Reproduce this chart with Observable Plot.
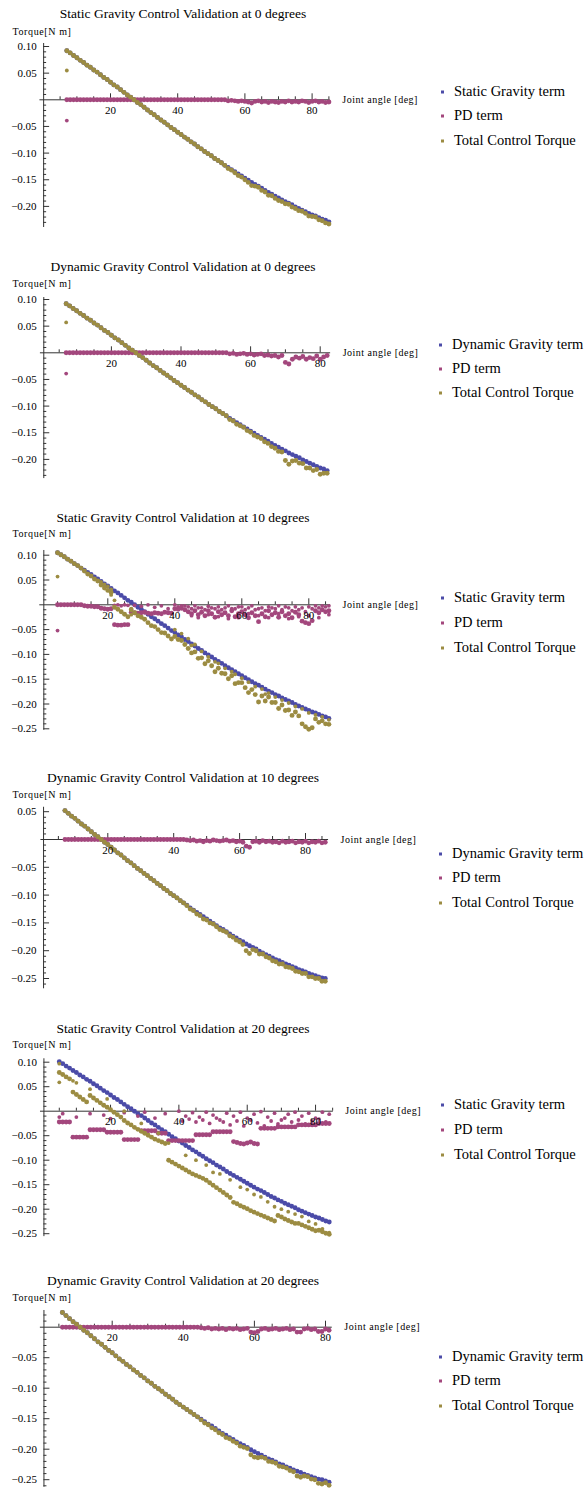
<!DOCTYPE html>
<html>
<head>
<meta charset="utf-8">
<script src="https://cdn.jsdelivr.net/npm/d3@7"></script>
<script src="https://cdn.jsdelivr.net/npm/@observablehq/plot@0.6"></script>
<style>
  body { margin: 0; background: #fff; }
  #chart { position: relative; width: 584px; height: 1491px; overflow: hidden;
           font-family: "Liberation Serif", "Times New Roman", serif; color: #000; }
  #chart svg { position: absolute; left: 0; }
  #chart svg text { font-family: "Liberation Serif", "Times New Roman", serif; }
  .title { position: absolute; font-size: 13.5px; white-space: nowrap; transform: translate(-50%, -50%); }
  .ylab { position: absolute; left: 12.5px; font-size: 10px; letter-spacing: 0.6px; white-space: nowrap; transform: translateY(-50%); }
  .leg { position: absolute; font-size: 14.5px; white-space: nowrap; transform: translateY(-50%); }
  .leg i { position: absolute; left: -13px; top: 50%; width: 3px; height: 3px; margin-top: -1px; }
</style>
</head>
<body>
<div id="chart"></div>
<script>
// ---- axis ticks and labels -------------------------------------------------
const xTicks = [20, 40, 60, 80];
const yTicksA = [0.10, 0.05, -0.05, -0.10, -0.15, -0.20];
const yTicksB = [0.10, 0.05, -0.05, -0.10, -0.15, -0.20, -0.25];
const yTicksC = [0.05, -0.05, -0.10, -0.15, -0.20, -0.25];
const yTicksD = [-0.05, -0.10, -0.15, -0.20, -0.25];
const xLabel = "Joint angle [deg]";
const yLabel = "Torque[N m]";
const seriesNames = ["PD term", "Total Control Torque"];

// ---- measured torques, mN·m, one sample per whole degree from the start angle ----
// Static gravity compensation, reference 0 degrees
const static0Start = 7;
const static0Gravity = [92,88,83,79,74,70,65,61,56,52,47,42,38,33,28,24,19,14,9,5,0,-5,-9,-14,-19,-24,-28,-33,-38,-42,-47,-52,-56,-61,-65,-70,-74,-79,-83,-88,-92,-97,-101,-105,-110,-114,-118,-123,-127,-131,-135,-139,-143,-147,-151,-155,-159,-162,-166,-170,-174,-177,-181,-184,-188,-191,-194,-197,-201,-204,-207,-210,-213,-216,-218,-221,-224,-226,-229];
const static0Pd = [0,0,0,0,0,0,0,0,0,0,0,0,0,0,0,0,0,0,0,0,0,0,0,0,0,0,0,0,0,0,0,0,0,0,0,0,0,0,0,0,0,0,0,0,0,0,0,0,-2,-1,-2,-3,-2,-3,-4,-6,-3,-2,-4,-3,-5,-3,-4,-5,-3,-4,-2,-4,-3,-4,-2,-3,-5,-3,-2,-4,-3,-5,-4];
const static0Total = [92,88,83,79,74,70,65,61,56,52,47,42,38,33,28,24,19,14,9,5,0,-5,-9,-14,-19,-24,-28,-33,-38,-42,-47,-52,-56,-61,-65,-70,-74,-79,-83,-88,-92,-97,-101,-105,-110,-114,-118,-123,-129,-132,-137,-142,-145,-150,-155,-161,-162,-164,-170,-173,-179,-180,-185,-189,-191,-195,-196,-201,-204,-208,-209,-213,-218,-219,-220,-225,-227,-231,-233];
const static0PdExtra = [[7,-39]];
const static0TotalExtra = [[7,55]];

// Dynamic gravity compensation, reference 0 degrees
const dynamic0Start = 7;
const dynamic0Gravity = [92,88,83,79,74,70,65,61,56,52,47,42,38,33,28,24,19,14,9,5,0,-5,-9,-14,-19,-24,-28,-33,-38,-42,-47,-52,-56,-61,-65,-70,-74,-79,-83,-88,-92,-97,-101,-105,-110,-114,-118,-123,-127,-131,-135,-139,-143,-147,-151,-155,-159,-162,-166,-170,-174,-177,-181,-184,-188,-191,-194,-197,-201,-204,-207,-210,-213,-216,-218,-221];
const dynamic0Pd = [0,0,0,0,0,0,0,0,0,0,0,0,0,0,0,0,0,0,0,0,0,0,0,0,0,0,0,0,0,0,0,0,0,0,0,0,0,0,0,0,0,0,0,0,0,0,0,-2,-1,-3,-2,-1,-3,-2,-4,-3,-2,-5,-4,-6,-5,-8,-5,-18,-21,-12,-8,-10,-7,-12,-9,-11,-6,-12,-8,-5];
const dynamic0Total = [92,88,83,79,74,70,65,61,56,52,47,42,38,33,28,24,19,14,9,5,0,-5,-9,-14,-19,-24,-28,-33,-38,-42,-47,-52,-56,-61,-65,-70,-74,-79,-83,-88,-92,-97,-101,-105,-110,-114,-118,-125,-128,-134,-137,-140,-146,-149,-155,-158,-161,-167,-170,-176,-179,-185,-186,-202,-209,-203,-202,-207,-208,-216,-216,-221,-219,-228,-226,-226];
const dynamic0PdExtra = [[7,-39]];
const dynamic0TotalExtra = [[7,57]];

// Static gravity compensation, reference 10 degrees
const static10Start = 5;
const static10Gravity = [105,101,97,92,88,83,79,74,70,65,61,56,52,47,42,38,33,28,24,19,14,9,5,0,-5,-9,-14,-19,-24,-28,-33,-38,-42,-47,-52,-56,-61,-65,-70,-74,-79,-83,-88,-92,-97,-101,-105,-110,-114,-118,-123,-127,-131,-135,-139,-143,-147,-151,-155,-159,-162,-166,-170,-174,-177,-181,-184,-188,-191,-194,-197,-201,-204,-207,-210,-213,-216,-218,-221,-224,-226,-229];
const static10Pd = [0,0,0,0,0,0,0,0,-2,-3,-3,-4,-4,-7,-8,-9,-8,-40,-41,-41,-40,-40,-15,-16,-17,-16,-15,-17,-18,-16,-17,-18,-15,-16,-17,-8,-9,-7,-10,-14,-18,-12,-20,-15,-22,-12,-18,-25,-14,-20,-16,-22,-12,-24,-18,-14,-20,-26,-16,-22,-34,-18,-24,-12,-20,-16,-25,-14,-22,-18,-26,-15,-20,-33,-36,-38,-32,-12,-16,-10,-14,-12];
const static10Total = [105,101,97,92,88,83,79,74,68,62,58,52,48,40,34,29,25,-5,-9,-14,-19,-24,-10,-16,-22,-25,-29,-36,-42,-44,-50,-56,-57,-63,-69,-64,-70,-72,-80,-88,-97,-95,-108,-107,-119,-113,-123,-135,-128,-138,-139,-149,-143,-159,-157,-157,-167,-177,-171,-181,-196,-184,-194,-186,-197,-197,-209,-202,-213,-212,-223,-216,-224,-240,-246,-251,-248,-230,-237,-234,-240,-241];
const static10PdExtra = [[5,-52],[22,-1],[23,0],[24,-2],[25,0],[26,-1],[28,-1],[30,-3],[32,0],[34,-5],[36,-2],[38,-8],[40,0],[41,-4],[42,-2],[43,-2],[44,-4],[45,-8],[45,-22],[46,-2],[47,-6],[47,-26],[48,-6],[49,-10],[50,-3],[50,-20],[51,-6],[52,-8],[53,-4],[53,-24],[54,-10],[55,-6],[56,-2],[56,-28],[57,-8],[58,-8],[59,-4],[59,-26],[60,-4],[61,-10],[62,-6],[62,-18],[63,-2],[64,-10],[65,-8],[65,-22],[66,-6],[67,-12],[68,-4],[68,-26],[69,-6],[70,-8],[71,-2],[71,-18],[72,-10],[73,-4],[74,-6],[74,-28],[75,-12],[76,-4],[77,-10],[77,-24],[78,-6],[79,-14],[80,-4],[80,-22],[81,-8],[82,-2],[83,-6],[83,-26],[84,-2],[85,-4],[86,-2],[86,-20]];
const static10TotalExtra = [[5,57],[18,46],[19,41],[20,37],[21,31],[21,20],[22,9],[27,-8],[27,-20],[40,-50],[42,-58],[44,-68],[45,-82],[46,-80],[48,-94],[50,-105],[52,-115],[53,-118],[55,-128],[57,-135],[58,-140],[60,-148],[62,-156],[64,-165],[66,-170],[67,-180],[68,-178],[70,-186],[72,-192],[74,-198],[76,-205],[78,-210],[80,-218],[82,-222],[84,-226],[86,-232]];

// Dynamic gravity compensation, reference 10 degrees
const dynamic10Start = 7;
const dynamic10Gravity = [52,47,42,38,33,28,24,19,14,9,5,0,-5,-9,-14,-19,-24,-28,-33,-38,-42,-47,-52,-56,-61,-65,-70,-74,-79,-83,-88,-92,-97,-101,-105,-110,-114,-118,-123,-127,-131,-135,-139,-143,-147,-151,-155,-159,-162,-166,-170,-174,-177,-181,-184,-188,-191,-194,-197,-201,-204,-207,-210,-213,-216,-218,-221,-224,-226,-229,-231,-234,-236,-238,-241,-243,-245,-247,-249,-250];
const dynamic10Pd = [0,0,0,0,0,0,0,0,0,0,0,0,0,0,0,0,0,0,0,0,0,0,0,0,0,0,0,0,0,0,0,0,0,0,0,0,0,-1,-2,-1,-3,-2,-4,-2,-3,-1,-2,-3,-2,-1,-3,-2,-4,-3,-5,-12,-14,-4,-3,-5,-2,-4,-3,-5,-4,-6,-3,-5,-4,-3,-6,-4,-5,-3,-6,-4,-5,-3,-6,-5];
const dynamic10Total = [52,47,42,38,33,28,24,19,14,9,5,0,-5,-9,-14,-19,-24,-28,-33,-38,-42,-47,-52,-56,-61,-65,-70,-74,-79,-83,-88,-92,-97,-101,-105,-110,-114,-119,-125,-128,-134,-137,-143,-145,-150,-152,-157,-162,-164,-167,-173,-176,-181,-184,-189,-200,-205,-198,-200,-206,-206,-211,-213,-218,-220,-224,-224,-229,-230,-232,-237,-238,-241,-241,-247,-247,-250,-250,-255,-255];
const dynamic10PdExtra = [];
const dynamic10TotalExtra = [];

// Static gravity compensation, reference 20 degrees
const static20Start = 5;
const static20Gravity = [101,97,92,88,83,79,74,70,65,61,56,52,47,42,38,33,28,24,19,14,9,5,0,-5,-9,-14,-19,-24,-28,-33,-38,-42,-47,-52,-56,-61,-65,-70,-74,-79,-83,-88,-92,-97,-101,-105,-110,-114,-118,-123,-127,-131,-135,-139,-143,-147,-151,-155,-159,-162,-166,-170,-174,-177,-181,-184,-188,-191,-194,-197,-201,-204,-207,-210,-213,-216,-218,-221,-224,-226];
const static20Pd = [-22,-22,-22,-22,-53,-53,-53,-53,-53,-38,-38,-38,-38,-38,-43,-43,-43,-43,-43,-58,-58,-58,-58,-58,-40,-40,-40,-40,-40,-45,-45,-45,-60,-60,-60,-60,-60,-60,-60,-60,-48,-48,-48,-48,-48,-42,-42,-42,-42,-42,-42,-62,-64,-66,-67,-65,-63,-66,-67,-35,-35,-35,-35,-35,-32,-32,-32,-32,-32,-32,-28,-28,-28,-28,-28,-28,-25,-25,-25,-25];
const static20Total = [79,75,70,66,39,34,29,24,19,32,27,22,17,12,8,3,-2,-7,-12,-19,-24,-28,-33,-37,-41,-45,-49,-53,-57,-60,-63,-66,-100,-104,-108,-112,-116,-120,-124,-128,-131,-134,-137,-141,-146,-151,-156,-161,-166,-171,-176,-186,-189,-193,-196,-199,-203,-206,-209,-212,-215,-218,-221,-224,-213,-216,-220,-223,-226,-229,-229,-232,-235,-238,-241,-244,-243,-246,-249,-251];
const static20PdExtra = [[5,-12],[6,-5],[10,-12],[14,-5],[18,-8],[20,-15],[24,-3],[28,-10],[30,-2],[33,-14],[36,-5],[40,0],[41,-20],[42,-10],[43,-16],[44,-3],[45,-22],[46,-12],[47,-18],[48,-2],[49,-25],[50,-8],[51,-14],[52,-18],[53,-22],[54,-4],[55,-28],[56,-10],[57,-20],[58,-2],[59,-30],[60,-14],[61,-18],[62,-6],[63,-24],[64,-1],[65,-30],[66,-12],[67,-20],[68,-4],[69,-26],[70,-18],[71,-14],[72,-6],[73,-22],[74,-2],[75,-18],[76,-10],[77,-26],[78,-4],[79,-20],[80,-14],[81,-16],[82,-2],[83,-22],[84,-6]];
const static20TotalExtra = [[5,97],[5,59],[9,62],[10,58],[14,45],[19,25],[24,0],[29,-25],[34,-45],[37,-65],[42,-90],[45,-100],[48,-110],[50,-125],[52,-128],[55,-140],[58,-155],[60,-160],[62,-170],[64,-175],[66,-185],[68,-195],[70,-200],[72,-205],[74,-210],[76,-215],[78,-225],[80,-230],[82,-240],[84,-248]];

// Dynamic gravity compensation, reference 20 degrees
const dynamic20Start = 6;
const dynamic20Gravity = [24,19,14,9,5,0,-5,-9,-14,-19,-24,-28,-33,-38,-42,-47,-52,-56,-61,-65,-70,-74,-79,-83,-88,-92,-97,-101,-105,-110,-114,-118,-123,-127,-131,-135,-139,-143,-147,-151,-155,-159,-162,-166,-170,-174,-177,-181,-184,-188,-191,-194,-197,-201,-204,-207,-210,-213,-216,-218,-221,-224,-226,-229,-231,-234,-236,-238,-241,-243,-245,-247,-249,-250,-252,-254];
const dynamic20Pd = [0,0,0,0,0,0,0,0,0,0,0,0,0,0,0,0,0,0,0,0,0,0,0,0,0,0,0,0,0,0,0,0,0,0,0,0,0,0,0,-1,-2,-1,-3,-2,-3,-2,-4,-2,-3,-2,-4,-3,-2,-8,-9,-7,-3,-2,-4,-3,-2,-4,-3,-2,-4,-3,-8,-8,-3,-2,-4,-3,-7,-7,-3,-5];
const dynamic20Total = [24,19,14,9,5,0,-5,-9,-14,-19,-24,-28,-33,-38,-42,-47,-52,-56,-61,-65,-70,-74,-79,-83,-88,-92,-97,-101,-105,-110,-114,-118,-123,-127,-131,-135,-139,-143,-147,-152,-157,-160,-165,-168,-173,-176,-181,-183,-187,-190,-195,-197,-199,-209,-213,-214,-213,-215,-220,-221,-223,-228,-229,-231,-235,-237,-244,-246,-244,-245,-249,-250,-256,-257,-255,-259];
const dynamic20PdExtra = [];
const dynamic20TotalExtra = [];

// ---- styling ----------------------------------------------------------------
const colors = ["#4b4ba8", "#a3477d", "#9c8c42"];
const axisColor = "#333";
const serif = "Liberation Serif, Times New Roman, serif";

// ---- panel layout (page pixels) ------------------------------------------------
const panels = [
  {title: "Static Gravity Control Validation at 0 degrees", term: "Static Gravity term",
   start: static0Start, gravity: static0Gravity, pd: static0Pd, total: static0Total,
   pdExtra: static0PdExtra, totalExtra: static0TotalExtra, yTicks: yTicksA,
   L: {top: 0, h: 250, x0: 42.8, ppd: 3.36, y0: 99.3, ppu: 533, xAxis: [-1.0, 85.4], yAxisAt: 0.1,
       yAxis: [0.1056, -0.2396], titleY: 14, labelY: 31, legendY: [91, 115, 140], legendX: 454}},
  {title: "Dynamic Gravity Control Validation at 0 degrees", term: "Dynamic Gravity term",
   start: dynamic0Start, gravity: dynamic0Gravity, pd: dynamic0Pd, total: dynamic0Total,
   pdExtra: dynamic0PdExtra, totalExtra: dynamic0TotalExtra, yTicks: yTicksA,
   L: {top: 252, h: 250, x0: 41.3, ppd: 3.48, y0: 352.3, ppu: 533, xAxis: [-0.4, 83.0], yAxisAt: 0.57,
       yAxis: [0.1037, -0.236], titleY: 266.7, labelY: 283, legendY: [344, 368, 392], legendX: 452}},
  {title: "Static Gravity Control Validation at 10 degrees", term: "Static Gravity term",
   start: static10Start, gravity: static10Gravity, pd: static10Pd, total: static10Total,
   pdExtra: static10PdExtra, totalExtra: static10TotalExtra, yTicks: yTicksB,
   L: {top: 504, h: 250, x0: 40.3, ppd: 3.35, y0: 604.3, ppu: 496, xAxis: [-0.3, 86.5], yAxisAt: 0.9,
       yAxis: [0.1095, -0.253], titleY: 518, labelY: 533, legendY: [597, 622, 647], legendX: 454}},
  {title: "Dynamic Gravity Control Validation at 10 degrees", term: "Dynamic Gravity term",
   start: dynamic10Start, gravity: dynamic10Gravity, pd: dynamic10Pd, total: dynamic10Total,
   pdExtra: dynamic10PdExtra, totalExtra: dynamic10TotalExtra, yTicks: yTicksC,
   L: {top: 757, h: 250, x0: 41.4, ppd: 3.295, y0: 839, ppu: 556, xAxis: [-0.3, 87.0], yAxisAt: 0.5,
       yAxis: [0.058, -0.2685], titleY: 777.7, labelY: 794, legendY: [853, 877, 902], legendX: 452}},
  {title: "Static Gravity Control Validation at 20 degrees", term: "Static Gravity term",
   start: static20Start, gravity: static20Gravity, pd: static20Pd, total: static20Total,
   pdExtra: static20PdExtra, totalExtra: static20TotalExtra, yTicks: yTicksB,
   L: {top: 1010, h: 250, x0: 41.7, ppd: 3.417, y0: 1110.7, ppu: 490, xAxis: [-0.5, 85.2], yAxisAt: 0.5,
       yAxis: [0.107, -0.256], titleY: 1029.3, labelY: 1044, legendY: [1104, 1129, 1154], legendX: 454}},
  {title: "Dynamic Gravity Control Validation at 20 degrees", term: "Dynamic Gravity term",
   start: dynamic20Start, gravity: dynamic20Gravity, pd: dynamic20Pd, total: dynamic20Total,
   pdExtra: dynamic20PdExtra, totalExtra: dynamic20TotalExtra, yTicks: yTicksD,
   L: {top: 1262, h: 229, x0: 40.6, ppd: 3.555, y0: 1326.7, ppu: 610, xAxis: [-0.2, 81.9], yAxisAt: 0.8,
       yAxis: [0.0274, -0.2623], titleY: 1280.7, labelY: 1296.7, legendY: [1356, 1380, 1405], legendX: 452}}
];

// ---- helpers ------------------------------------------------------------------
const sampled = (start, values) => values.map((v, i) => ({angle: start + i, torque: v / 1000}));
const scattered = (list) => list.map(([a, v]) => ({angle: a, torque: v / 1000}));
const fmt = (d) => (d < 0 ? "\u2212" : "") + Math.abs(d).toFixed(2);

const chart = document.getElementById("chart");

function drawPanel(p) {
  const L = p.L;
  const major = 6, minor = 3;
  const up = (px) => px / L.ppu;      // pixel length expressed in torque units
  const right = (px) => px / L.ppd;   // pixel length expressed in degrees
  const xMinor = d3.range(5, L.xAxis[1], 5).filter((d) => d % 20 !== 0);
  const yMinor = d3.range(Math.ceil(L.yAxis[1] * 100), Math.floor(L.yAxis[0] * 100) + 1)
    .filter((k) => k % 5 !== 0).map((k) => k / 100);
  const r = 2.45;

  const svg = Plot.plot({
    width: 584,
    height: L.h,
    style: {fontFamily: serif, fontSize: "11px", color: "#000", background: "transparent", overflow: "visible"},
    x: {domain: [0, 80], range: [L.x0, L.x0 + 80 * L.ppd], axis: null},
    y: {domain: [0, -0.2], range: [L.y0 - L.top, L.y0 - L.top + 0.2 * L.ppu], axis: null},
    marks: [
      // axes crossing at the origin
      Plot.ruleY([0], {x1: () => L.xAxis[0], x2: () => L.xAxis[1], stroke: axisColor}),
      Plot.ruleX([L.yAxisAt], {x: (d) => d, y1: () => L.yAxis[0], y2: () => L.yAxis[1], stroke: axisColor}),
      Plot.ruleX(xTicks, {x: (d) => d, y1: () => 0, y2: () => up(major), stroke: axisColor}),
      Plot.ruleX(xMinor, {x: (d) => d, y1: () => 0, y2: () => up(minor), stroke: axisColor}),
      Plot.ruleY(p.yTicks, {y: (d) => d, x1: () => L.yAxisAt, x2: () => L.yAxisAt + right(major), stroke: axisColor}),
      Plot.ruleY(yMinor, {y: (d) => d, x1: () => L.yAxisAt, x2: () => L.yAxisAt + right(minor), stroke: axisColor}),
      // the three series
      Plot.dot(sampled(p.start, p.gravity), {x: "angle", y: "torque", r, fill: colors[0]}),
      Plot.dot(sampled(p.start, p.pd), {x: "angle", y: "torque", r, fill: colors[1]}),
      Plot.dot(scattered(p.pdExtra), {x: "angle", y: "torque", r: 1.9, fill: colors[1]}),
      Plot.dot(sampled(p.start, p.total), {x: "angle", y: "torque", r, fill: colors[2]}),
      Plot.dot(scattered(p.totalExtra), {x: "angle", y: "torque", r: 1.9, fill: colors[2]}),
      // tick labels and axis label
      Plot.text(xTicks, {x: (d) => d, y: () => 0, dy: 10.5, text: (d) => String(d), fontSize: 11, fontFamily: serif, fill: "#000"}),
      Plot.text(p.yTicks, {x: () => L.yAxisAt, y: (d) => d, dx: -7, textAnchor: "end", text: fmt, fontSize: 11, fontFamily: serif, fill: "#000"}),
      Plot.text([xLabel], {x: () => L.xAxis[1], y: () => 0, dx: 12, textAnchor: "start", text: (d) => d, fontSize: 10, fontFamily: serif, fill: "#000"})
    ]
  });
  svg.style.top = L.top + "px";
  svg.querySelectorAll("text").forEach((t) => {
    if (t.textContent === xLabel) t.setAttribute("letter-spacing", "0.5");
  });
  chart.append(svg);

  const title = document.createElement("div");
  title.className = "title";
  title.style.left = "183px";
  title.style.top = L.titleY + "px";
  title.textContent = p.title;
  chart.append(title);

  const ylab = document.createElement("div");
  ylab.className = "ylab";
  ylab.style.top = L.labelY + "px";
  ylab.textContent = yLabel;
  chart.append(ylab);

  [p.term, ...seriesNames].forEach((name, i) => {
    const item = document.createElement("div");
    item.className = "leg";
    item.style.left = L.legendX + "px";
    item.style.top = L.legendY[i] + "px";
    const sw = document.createElement("i");
    sw.style.background = colors[i];
    item.append(sw, document.createTextNode(name));
    chart.append(item);
  });
}

panels.forEach(drawPanel);
</script>
</body>
</html>
